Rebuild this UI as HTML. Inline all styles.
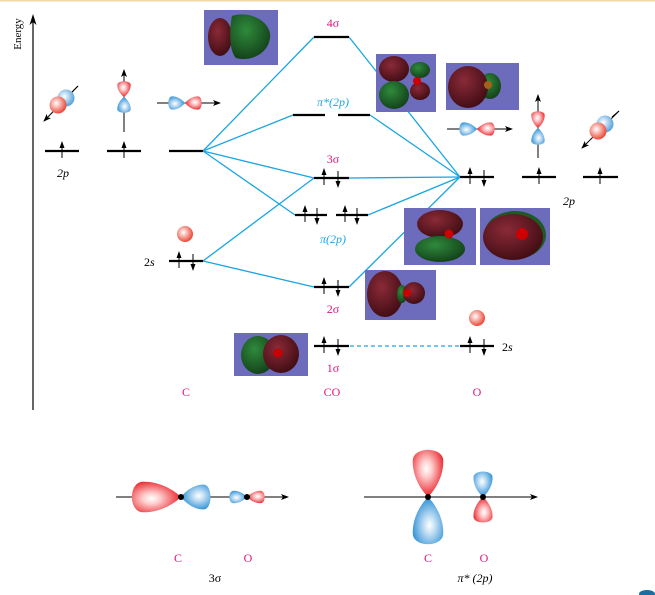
<!DOCTYPE html>
<html><head><meta charset="utf-8"><style>
html,body{margin:0;padding:0;background:#fff;width:655px;height:595px;overflow:hidden}
svg{display:block}
text{font-family:"Liberation Serif",serif}
</style></head><body>
<svg width="655" height="595" viewBox="0 0 655 595" xmlns="http://www.w3.org/2000/svg">
<defs>
<radialGradient id="rg" cx="0.6" cy="0.45" r="0.6"><stop offset="0" stop-color="#fff"/><stop offset="0.3" stop-color="#fcc"/><stop offset="1" stop-color="#e8232a"/></radialGradient>
<radialGradient id="bg" cx="0.6" cy="0.45" r="0.6"><stop offset="0" stop-color="#fff"/><stop offset="0.3" stop-color="#c4e0f4"/><stop offset="1" stop-color="#2a8ed6"/></radialGradient>
<radialGradient id="sg" cx="0.4" cy="0.4" r="0.6"><stop offset="0" stop-color="#fff"/><stop offset="1" stop-color="#ec4a3a"/></radialGradient>
<radialGradient id="sb" cx="0.4" cy="0.4" r="0.6"><stop offset="0" stop-color="#fff"/><stop offset="1" stop-color="#5aa3dc"/></radialGradient>
<radialGradient id="dr" cx="0.4" cy="0.35" r="0.7"><stop offset="0" stop-color="#8a2a38"/><stop offset="1" stop-color="#3f0c12"/></radialGradient>
<radialGradient id="dg" cx="0.4" cy="0.35" r="0.7"><stop offset="0" stop-color="#2f8a3c"/><stop offset="1" stop-color="#123f18"/></radialGradient>
<path id="lobe" d="M0,0 C0.2,-0.6 0.5,-1 0.78,-0.95 C1.05,-0.85 1.05,0.85 0.78,0.95 C0.5,1 0.2,0.6 0,0Z"/>
<marker id="ah" markerWidth="8" markerHeight="6" refX="7" refY="3" orient="auto" markerUnits="userSpaceOnUse"><path d="M0,0 L8,3 L0,6 L2,3Z" fill="#000"/></marker>
</defs>

<rect x="0" y="0" width="655" height="1.5" fill="#f0d9a6"/>

<line x1="33" y1="410" x2="33" y2="20" stroke="#000" stroke-width="1.2"/>
<path d="M33,14 L36.5,25 L33,22 L29.5,25Z" fill="#000"/>
<text transform="translate(21,34) rotate(-90)" font-size="11" text-anchor="middle">Energy</text>

<g stroke="#1aa6e0" stroke-width="1.3" fill="none">
<line x1="203" y1="151" x2="314" y2="37"/>
<line x1="203" y1="151" x2="293" y2="115"/>
<line x1="203" y1="151" x2="314" y2="178"/>
<line x1="203" y1="151" x2="295" y2="215"/>
<line x1="203" y1="261" x2="314" y2="178"/>
<line x1="203" y1="261" x2="314" y2="287"/>
<line x1="460" y1="177" x2="349" y2="37"/>
<line x1="460" y1="177" x2="370" y2="115"/>
<line x1="460" y1="177" x2="349" y2="178"/>
<line x1="460" y1="177" x2="368" y2="215"/>
<line x1="460" y1="177" x2="349" y2="287"/>
<line x1="350" y1="346" x2="460" y2="346" stroke-dasharray="4,3"/>
</g>

<g stroke="#000" stroke-width="2.2">
<line x1="45" y1="151" x2="79" y2="151"/><line x1="107" y1="151" x2="141" y2="151"/><line x1="169" y1="151" x2="203" y2="151"/>
<line x1="169" y1="261" x2="203" y2="261"/>
<line x1="314" y1="37" x2="349" y2="37"/>
<line x1="293" y1="115" x2="325" y2="115"/><line x1="338" y1="115" x2="370" y2="115"/>
<line x1="314" y1="178" x2="349" y2="178"/>
<line x1="295" y1="215" x2="327" y2="215"/><line x1="336" y1="215" x2="368" y2="215"/>
<line x1="314" y1="287" x2="349" y2="287"/>
<line x1="314" y1="346" x2="349" y2="346"/>
<line x1="460" y1="177" x2="494" y2="177"/><line x1="522" y1="177" x2="556" y2="177"/><line x1="583" y1="177" x2="618" y2="177"/>
<line x1="460" y1="346" x2="494" y2="346"/>
</g>
<g fill="#000">
<path d="M62,141 l-2.5,7 h2 v10 h1 v-10 h2z"/>
<path d="M124,141 l-2.5,7 h2 v10 h1 v-10 h2z"/>
<path d="M179,251 l-2.5,7 h2 v10 h1 v-10 h2z"/><path d="M193,271 l-2.5,-7 h2 v-10 h1 v10 h2z"/>
<path d="M324,168 l-2.5,7 h2 v10 h1 v-10 h2z"/><path d="M338,188 l-2.5,-7 h2 v-10 h1 v10 h2z"/>
<path d="M305,205 l-2.5,7 h2 v10 h1 v-10 h2z"/><path d="M317,225 l-2.5,-7 h2 v-10 h1 v10 h2z"/>
<path d="M345,205 l-2.5,7 h2 v10 h1 v-10 h2z"/><path d="M357,225 l-2.5,-7 h2 v-10 h1 v10 h2z"/>
<path d="M324,277 l-2.5,7 h2 v10 h1 v-10 h2z"/><path d="M338,297 l-2.5,-7 h2 v-10 h1 v10 h2z"/>
<path d="M324,336 l-2.5,7 h2 v10 h1 v-10 h2z"/><path d="M338,356 l-2.5,-7 h2 v-10 h1 v10 h2z"/>
<path d="M470,167 l-2.5,7 h2 v10 h1 v-10 h2z"/><path d="M484,187 l-2.5,-7 h2 v-10 h1 v10 h2z"/>
<path d="M539,167 l-2.5,7 h2 v10 h1 v-10 h2z"/>
<path d="M600,167 l-2.5,7 h2 v10 h1 v-10 h2z"/>
<path d="M470,336 l-2.5,7 h2 v10 h1 v-10 h2z"/><path d="M484,356 l-2.5,-7 h2 v-10 h1 v10 h2z"/>
</g>

<g>
<rect x="204" y="10" width="74" height="55" fill="#6d6bbb"/>
<ellipse cx="220" cy="37" rx="12" ry="19" fill="url(#dr)"/>
<path d="M232,16 C250,10 272,22 270,38 C268,54 250,62 236,58 C228,50 230,24 232,16Z" fill="url(#dg)"/>

<rect x="376" y="54" width="60" height="58" fill="#6d6bbb"/>
<ellipse cx="394" cy="69" rx="15" ry="13" fill="url(#dr)"/>
<ellipse cx="394" cy="95" rx="15" ry="14" fill="url(#dg)"/>
<ellipse cx="420" cy="70" rx="10" ry="8" fill="url(#dg)"/>
<ellipse cx="420" cy="91" rx="10" ry="9" fill="url(#dr)"/>
<circle cx="417" cy="81" r="4" fill="#c00"/>

<rect x="446" y="63" width="73" height="47" fill="#6d6bbb"/>
<ellipse cx="490" cy="86" rx="11" ry="13" fill="url(#dg)"/>
<ellipse cx="468" cy="87" rx="20" ry="21" fill="url(#dr)"/>
<circle cx="488" cy="85" r="4" fill="#a5611a"/>

<rect x="404" y="208" width="72" height="57" fill="#6d6bbb"/>
<ellipse cx="440" cy="224" rx="23" ry="14" fill="url(#dr)"/>
<ellipse cx="440" cy="249" rx="25" ry="13" fill="url(#dg)"/>
<circle cx="449" cy="234" r="4.5" fill="#c00"/>

<rect x="480" y="208" width="70" height="57" fill="#6d6bbb"/>
<ellipse cx="515" cy="235" rx="31" ry="24" fill="#1f5a25"/>
<ellipse cx="513" cy="237" rx="30" ry="23" fill="url(#dr)"/>
<circle cx="522" cy="234" r="6" fill="#c00"/>

<rect x="365" y="270" width="71" height="50" fill="#6d6bbb"/>
<ellipse cx="385" cy="294" rx="18" ry="23" fill="url(#dr)"/>
<ellipse cx="402" cy="294" rx="5" ry="9" fill="url(#dg)"/>
<ellipse cx="414" cy="293" rx="11" ry="11" fill="url(#dr)"/>
<circle cx="407" cy="293" r="4" fill="#c00"/>

<rect x="234" y="333" width="74" height="43" fill="#6d6bbb"/>
<ellipse cx="258" cy="355" rx="17" ry="19" fill="url(#dg)"/>
<ellipse cx="281" cy="354" rx="18" ry="19" fill="url(#dr)"/>
<circle cx="278" cy="353" r="4.5" fill="#c00"/>
</g>

<line x1="78" y1="86" x2="44" y2="121" stroke="#000" stroke-width="1" marker-end="url(#ah)"/>
<circle cx="66" cy="98" r="8.5" fill="url(#sb)"/>
<circle cx="58" cy="105" r="8.5" fill="url(#sg)"/>
<line x1="72" y1="92" x2="78" y2="86" stroke="#000"/>
<line x1="124" y1="132" x2="124" y2="70" stroke="#000" stroke-width="1" marker-end="url(#ah)"/>
<use href="#lobe" transform="translate(124,97) rotate(-90) scale(16,7)" fill="url(#rg)"/>
<use href="#lobe" transform="translate(124,97) rotate(90) scale(16,7)" fill="url(#bg)"/>
<line x1="157" y1="103" x2="220" y2="103" stroke="#000" stroke-width="1" marker-end="url(#ah)"/>
<use href="#lobe" transform="translate(185,103) rotate(180) scale(17,7)" fill="url(#bg)"/>
<use href="#lobe" transform="translate(185,103) scale(17,7)" fill="url(#rg)"/>
<circle cx="185" cy="234" r="8" fill="url(#sg)"/>

<line x1="447" y1="129" x2="512" y2="129" stroke="#000" stroke-width="1" marker-end="url(#ah)"/>
<use href="#lobe" transform="translate(477,129) rotate(180) scale(18,7)" fill="url(#bg)"/>
<use href="#lobe" transform="translate(477,129) scale(18,7)" fill="url(#rg)"/>
<line x1="538" y1="158" x2="538" y2="95" stroke="#000" stroke-width="1" marker-end="url(#ah)"/>
<use href="#lobe" transform="translate(538,128) rotate(-90) scale(17,7)" fill="url(#rg)"/>
<use href="#lobe" transform="translate(538,128) rotate(90) scale(17,7)" fill="url(#bg)"/>
<line x1="619" y1="111" x2="582" y2="148" stroke="#000" stroke-width="1" marker-end="url(#ah)"/>
<circle cx="605" cy="124" r="8.5" fill="url(#sb)"/>
<circle cx="598" cy="131" r="8.5" fill="url(#sg)"/>
<line x1="612" y1="117" x2="619" y2="111" stroke="#000"/>
<circle cx="477" cy="318" r="8" fill="url(#sg)"/>

<g font-size="12">
<text x="57" y="177" font-style="italic">2p</text>
<text x="144" y="266">2<tspan font-style="italic">s</tspan></text>
<text x="563" y="205" font-style="italic">2p</text>
<text x="502" y="351">2<tspan font-style="italic">s</tspan></text>
</g>
<g font-size="12" text-anchor="middle" fill="#e0157a">
<text x="333" y="27">4σ</text>
<text x="333" y="163">3σ</text>
<text x="333" y="313">2σ</text>
<text x="333" y="372">1σ</text>
<text x="186" y="396">C</text>
<text x="332" y="396">CO</text>
<text x="477" y="396">O</text>
<text x="178" y="562">C</text>
<text x="248" y="562">O</text>
<text x="428" y="562">C</text>
<text x="484" y="562">O</text>
</g>
<g font-size="12" text-anchor="middle" fill="#1aa6e0" font-style="italic">
<text x="333" y="106">π*(2p)</text>
<text x="333" y="243">π(2p)</text>
</g>
<g font-size="12" text-anchor="middle">
<text x="215" y="582">3σ</text>
<text x="475" y="582" font-style="italic">π* (2p)</text>
</g>

<line x1="116" y1="497" x2="288" y2="497" stroke="#000" stroke-width="1" marker-end="url(#ah)"/>
<use href="#lobe" transform="translate(181,497) rotate(180) scale(50,16)" fill="url(#rg)"/>
<use href="#lobe" transform="translate(181,497) scale(30,13)" fill="url(#bg)"/>
<use href="#lobe" transform="translate(247,497) rotate(180) scale(18,6.5)" fill="url(#bg)"/>
<use href="#lobe" transform="translate(247,497) scale(18,6.5)" fill="url(#rg)"/>
<circle cx="181" cy="497" r="3" fill="#000"/>
<circle cx="247" cy="497" r="3" fill="#000"/>

<line x1="364" y1="497" x2="537" y2="497" stroke="#000" stroke-width="1" marker-end="url(#ah)"/>
<use href="#lobe" transform="translate(428,497) rotate(-90) scale(48,16)" fill="url(#rg)"/>
<use href="#lobe" transform="translate(428,497) rotate(90) scale(48,16)" fill="url(#bg)"/>
<use href="#lobe" transform="translate(483,497) rotate(-90) scale(26,10)" fill="url(#bg)"/>
<use href="#lobe" transform="translate(483,497) rotate(90) scale(26,10)" fill="url(#rg)"/>
<circle cx="428" cy="497" r="3" fill="#000"/>
<circle cx="483" cy="497" r="3" fill="#000"/>

<ellipse cx="647" cy="594" rx="8" ry="4" fill="#1b6e9e"/>
</svg>
</body></html>
